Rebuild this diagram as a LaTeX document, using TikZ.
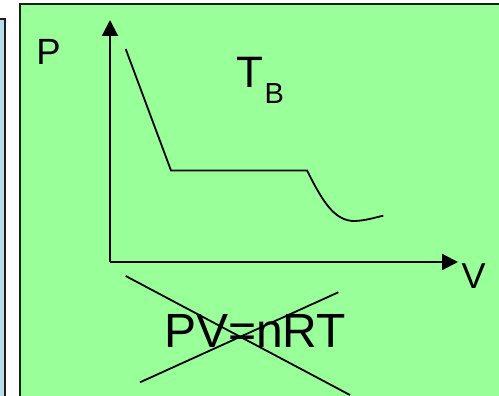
\documentclass[tikz,border=0pt]{standalone}
\usepackage{fontspec}
\setmainfont{Liberation Sans}
\usetikzlibrary{arrows.meta}
\definecolor{panelgreen}{RGB}{153,255,153}
\definecolor{panelblue}{RGB}{183,221,232}
\definecolor{edgegray}{RGB}{30,30,30}
\tikzset{
  panel/.style={draw=edgegray, line width=2.4pt},
  axis/.style={draw=black, line width=2.2pt, -{Triangle[length=16pt,width=16pt]}},
  curve/.style={draw=black, line width=1.8pt, line join=miter},
  cross/.style={draw=black, line width=1.8pt},
  lbl/.style={inner sep=0pt, outer sep=0pt, anchor=base west, text=black}
}
\begin{document}
\begin{tikzpicture}[x=1pt,y=-1pt]
  \useasboundingbox (0,0) rectangle (499,396);
  \clip (0,0) rectangle (499,396);
  % panels
  \path[panel, fill=panelblue] (-30,19) rectangle (5,420);
  \path[panel, fill=panelgreen] (20,4) rectangle (520,420);
  % axes
  \coordinate (O) at (110,262);
  \coordinate (ytip) at (110,20);
  \coordinate (xtip) at (458,262);
  \draw[axis] (O) -- (ytip);
  \draw[axis] (O) -- (xtip);
  % isotherm curve
  \coordinate (c0) at (125.7,49);
  \coordinate (c1) at (171,170.5);
  \coordinate (c2) at (307,170.5);
  \coordinate (c3) at (355,221);
  \coordinate (c4) at (383.3,215.7);
  \draw[curve] (c0) -- (c1) -- (c2)
    .. controls (322,200) and (334,221.5) .. (c3)
    .. controls (366,220.5) and (375,217.5) .. (c4);
  % labels
  \node[lbl, font=\fontsize{36.5}{36.5}\selectfont] (P) at (36.4,64.5) {P};
  \node[lbl, font=\fontsize{36}{36}\selectfont] (V) at (461.5,288) {V};
  \node[lbl, font=\fontsize{44}{44}\selectfont] (T) at (236.2,88) {T};
  \node[lbl, font=\fontsize{29}{29}\selectfont] (B) at (264.5,103.5) {B};
  \node[lbl, font=\fontsize{48}{48}\selectfont] (eq) at (164,347.5) {PV=nRT};
  % cross-out
  \coordinate (x1a) at (125.7,276);
  \coordinate (x1b) at (350,395);
  \coordinate (x2a) at (140,382.3);
  \coordinate (x2b) at (338.3,292.3);
  \draw[cross] (x1a) -- (x1b);
  \draw[cross] (x2a) -- (x2b);
\end{tikzpicture}
\end{document}
